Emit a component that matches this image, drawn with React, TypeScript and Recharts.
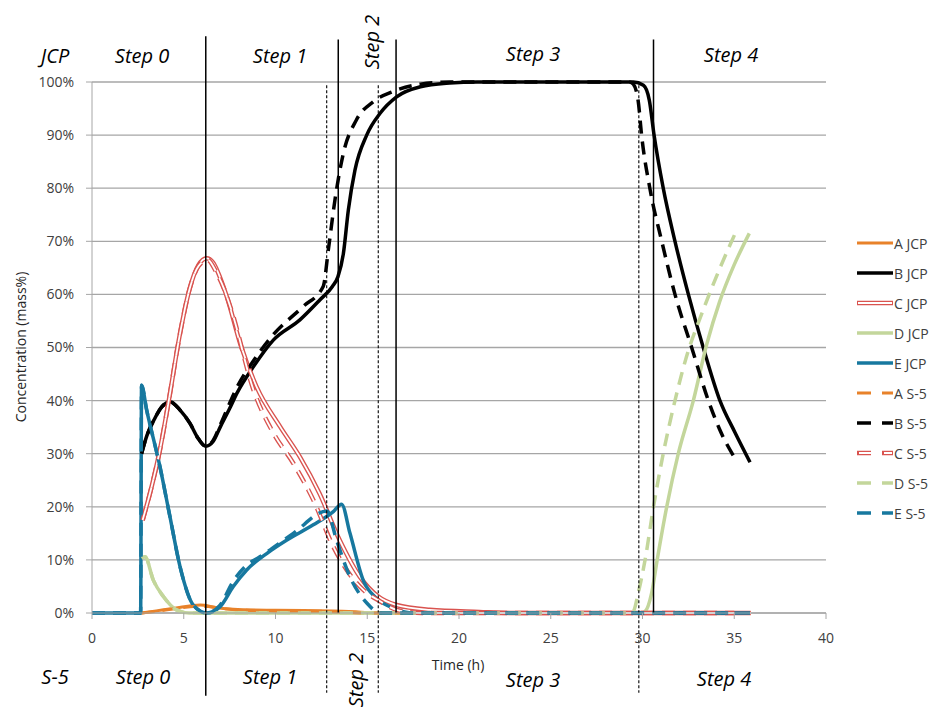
import { LineChart, Line, XAxis, YAxis, CartesianGrid, ReferenceLine } from "recharts";

const W = 933;
const H = 712;

const ORANGE = "#E8822A";
const BLACK = "#000000";
const RED = "#D9534F";
const GREEN = "#C3D69B";
const BLUE = "#17789F";

// [time (h), concentration (mass%)]
const aJcp = [[2.7, 0], [3.5, 0.4], [4.5, 0.9], [5.9, 1.5], [6.8, 1.0], [7.7, 0.7], [10, 0.5], [13.1, 0.4], [14.5, 0.2], [15.5, 0], [35.9, 0]];
const bJcp = [[2.7, 30], [3.0, 33.5], [3.4, 36.5], [3.8, 38.8], [4.25, 39.8], [4.8, 38.2], [5.34, 35.7], [5.8, 32.8], [6.2, 31.4], [6.6, 32.3], [7.0, 35.1], [7.5, 38.5], [7.9, 41.4], [8.8, 46.4], [9.88, 51.4], [11.33, 55.2], [12.4, 58.9], [13.1, 61.5], [13.4, 63.3], [13.7, 67.7], [13.97, 75.9], [14.33, 83.4], [14.97, 90], [15.7, 94.1], [16.6, 97.2], [17.9, 99.1], [19.5, 99.8], [21, 100], [29.5, 100], [30.05, 99.4], [30.37, 96.6], [30.63, 90], [31.13, 80], [31.77, 70], [32.5, 60], [33.31, 50], [34.22, 40], [35.04, 34], [35.86, 28.4]];
const cJcp = [[2.76, 17.5], [3.25, 23.8], [3.7, 30.7], [4.16, 39.5], [4.8, 52.7], [5.3, 60.8], [5.8, 65.5], [6.25, 66.8], [6.6, 66], [7.0, 63], [7.4, 59], [8.07, 50.8], [8.97, 42.6], [10.25, 35.1], [11.33, 29.4], [12.4, 22.5], [13.5, 13.7], [14.6, 6.8], [15.6, 3.1], [16.6, 1.5], [18.4, 0.6], [21.1, 0.2], [23, 0], [35.9, 0]];
const dJcp = [[2.7, 10.3], [2.89, 10.6], [3.34, 6.2], [3.89, 3.1], [4.6, 0.6], [5.3, 0], [29.9, 0], [30.14, 0.3], [30.5, 3.8], [30.8, 10], [31.32, 20], [31.95, 30], [32.77, 40], [33.5, 50.6], [34.2, 58.6], [35.0, 65.6], [35.82, 71.5]];
const eJcp = [[0, 0], [2.65, 0], [2.7, 42.9], [2.98, 38.2], [3.7, 27.6], [4.25, 18.1], [4.8, 8.7], [5.52, 1.5], [6.25, 0], [6.98, 1.2], [7.7, 5], [8.43, 8.1], [9.52, 11.2], [10.6, 13.7], [12.06, 16.6], [13.15, 19.1], [13.6, 20.5], [14.06, 15], [14.8, 6], [15.5, 2.8], [16.5, 0.8], [17.5, 0], [35.86, 0]];

const aS5 = [[2.7, 0], [3.5, 0.3], [4.5, 0.8], [6, 1.3], [7, 0.9], [8, 0.6], [10, 0.4], [12.7, 0.3], [14, 0.1], [15, 0], [35, 0]];
const bS5 = [[2.7, 30], [3.0, 33.5], [3.4, 36.5], [3.8, 38.8], [4.25, 39.8], [4.8, 38.2], [5.34, 35.7], [5.8, 32.8], [6.2, 31.4], [6.6, 32.5], [7.0, 35.5], [7.5, 39.5], [7.9, 42.5], [8.8, 47.5], [9.9, 52.5], [11.5, 57.7], [12.6, 61.5], [12.88, 68.4], [13.24, 77.8], [13.7, 86.6], [14.4, 92.8], [15.33, 96.3], [16.4, 98.2], [17.9, 99.6], [19.5, 100], [29.3, 100], [29.5, 99.6], [29.77, 96.3], [29.95, 90], [30.4, 80], [31.05, 70], [31.77, 60], [32.68, 50], [33.59, 40], [34.2, 34.6], [35.04, 29.1]];
const cS5 = [[2.76, 17.5], [3.25, 23.8], [3.7, 30.7], [4.16, 39.5], [4.8, 52.7], [5.3, 60.8], [5.8, 65.3], [6.3, 66.5], [6.8, 64], [7.2, 61], [7.6, 57], [8.8, 42], [9.9, 33.8], [10.97, 28.2], [12.06, 21.3], [13.15, 12.5], [13.9, 8], [14.8, 4.3], [15.7, 2.2], [16.6, 0.6], [18, 0], [35, 0]];
const dS5 = [[2.7, 10.3], [2.89, 10.6], [3.34, 6.2], [3.89, 3.1], [4.6, 0.6], [5.3, 0], [29.3, 0], [29.5, 0.3], [29.77, 3.8], [30.14, 10], [30.6, 20], [31.13, 30], [31.77, 40], [32.4, 48.3], [33.3, 57], [34.2, 64.8], [35.04, 71.4]];
const eS5 = [[0, 0], [2.65, 0], [2.7, 42.9], [2.98, 38.2], [3.7, 27.6], [4.25, 18.1], [4.8, 8.7], [5.52, 1.5], [6.25, 0], [6.98, 1.5], [7.7, 6], [8.43, 9], [9.15, 10.6], [10.97, 15], [12.8, 19.2], [13.33, 13.7], [14.06, 6.8], [15, 1.8], [15.7, 0], [35, 0]];

// step boundaries (h)
const sharedBound = 6.2;
const jcpBounds = [13.42, 16.57, 30.6];
const s5Bounds = [12.79, 15.6, 29.8];

const xTicks = [0, 5, 10, 15, 20, 25, 30, 35, 40];
const yTicks = [0, 10, 20, 30, 40, 50, 60, 70, 80, 90, 100];

const series = [
  { name: "A JCP", data: aJcp, color: ORANGE, dashed: false, double: false, width: 3 },
  { name: "B JCP", data: bJcp, color: BLACK, dashed: false, double: false, width: 3.5 },
  { name: "C JCP", data: cJcp, color: RED, dashed: false, double: true, width: 4.5 },
  { name: "D JCP", data: dJcp, color: GREEN, dashed: false, double: false, width: 3.5 },
  { name: "E JCP", data: eJcp, color: BLUE, dashed: false, double: false, width: 3.5 },
  { name: "A S-5", data: aS5, color: ORANGE, dashed: true, double: false, width: 3 },
  { name: "B S-5", data: bS5, color: BLACK, dashed: true, double: false, width: 3.5 },
  { name: "C S-5", data: cS5, color: RED, dashed: true, double: true, width: 4.5 },
  { name: "D S-5", data: dS5, color: GREEN, dashed: true, double: false, width: 3.5 },
  { name: "E S-5", data: eS5, color: BLUE, dashed: true, double: false, width: 3.5 },
];

const toPoints = (arr: number[][]) => arr.map(([t, v]) => ({ t, v }));

const topLabels = [
  { text: "JCP", x: 55, y: 56 },
  { text: "Step 0", x: 142, y: 56 },
  { text: "Step 1", x: 280, y: 56 },
  { text: "Step 2", x: 372, y: 42, rotate: true },
  { text: "Step 3", x: 533, y: 54 },
  { text: "Step 4", x: 731, y: 55 },
];
const bottomLabels = [
  { text: "S-5", x: 55, y: 677 },
  { text: "Step 0", x: 143, y: 677 },
  { text: "Step 1", x: 270, y: 677 },
  { text: "Step 2", x: 356, y: 680, rotate: true },
  { text: "Step 3", x: 533, y: 680 },
  { text: "Step 4", x: 724, y: 679 },
];

function StepLabel({ text, x, y, rotate }: { text: string; x: number; y: number; rotate?: boolean }) {
  return (
    <div
      style={{
        position: "absolute",
        left: x,
        top: y,
        transform: `translate(-50%, -50%)${rotate ? " rotate(-90deg)" : ""}`,
        fontSize: 20,
        fontStyle: "italic",
        color: "#000",
        whiteSpace: "nowrap",
        lineHeight: 1,
      }}
    >
      {text}
    </div>
  );
}

function LegendIcon({ s }: { s: (typeof series)[number] }) {
  const dash = s.dashed ? "14 11" : undefined;
  return (
    <svg width={36} height={10} style={{ display: "block" }}>
      <line x1={0} y1={5} x2={36} y2={5} stroke={s.color} strokeWidth={s.width} strokeDasharray={dash} />
      {s.double && (
        <line x1={1} y1={5} x2={35} y2={5} stroke="#fff" strokeWidth={2} strokeDasharray={s.dashed ? "12 13" : undefined} strokeDashoffset={-1} />
      )}
    </svg>
  );
}

export default function App() {
  return (
    <div
      style={{
        position: "absolute",
        left: 0,
        top: 0,
        width: W,
        height: H,
        background: "#fff",
        fontFamily: "'Open Sans', sans-serif",
        overflow: "hidden",
      }}
    >
      <LineChart width={W} height={H} margin={{ top: 82, right: 107, bottom: 69, left: 30 }}>
        <CartesianGrid vertical={false} stroke="#A6A6A6" strokeWidth={1.3} />
        <XAxis
          type="number"
          dataKey="t"
          domain={[0, 40]}
          ticks={xTicks}
          height={30}
          stroke="#A6A6A6"
          tickSize={6}
          tickMargin={14}
          tick={{ fill: "#404040", fontSize: 14 }}
        />
        <YAxis
          type="number"
          dataKey="v"
          domain={[0, 100]}
          ticks={yTicks}
          width={62}
          stroke="#A6A6A6"
          tickSize={6}
          tickMargin={12}
          tickFormatter={(v: number) => `${v}%`}
          tick={{ fill: "#404040", fontSize: 14 }}
        />
        {series.flatMap((s) => {
          const dash = s.dashed ? "13 8" : undefined;
          const lines = [
            <Line
              key={s.name}
              data={toPoints(s.data)}
              dataKey="v"
              name={s.name}
              type="monotone"
              stroke={s.color}
              strokeWidth={s.width}
              strokeDasharray={dash}
              dot={false}
              activeDot={false}
              isAnimationActive={false}
            />,
          ];
          if (s.double) {
            lines.push(
              <Line
                key={s.name + "-core"}
                data={toPoints(s.data)}
                dataKey="v"
                name={s.name + " core"}
                type="monotone"
                stroke="#fff"
                strokeWidth={1.8}
                strokeDasharray={dash}
                dot={false}
                activeDot={false}
                legendType="none"
                isAnimationActive={false}
              />
            );
          }
          return lines;
        })}
        <ReferenceLine
          segment={[{ x: sharedBound, y: 108.6 }, { x: sharedBound, y: -15.6 }]}
          stroke="#000"
          strokeWidth={1.5}
          ifOverflow="visible"
        />
        {jcpBounds.map((b) => (
          <ReferenceLine
            key={"j" + b}
            segment={[{ x: b, y: 108 }, { x: b, y: 0 }]}
            stroke="#000"
            strokeWidth={1.5}
            ifOverflow="visible"
          />
        ))}
        {s5Bounds.map((b) => (
          <ReferenceLine
            key={"s" + b}
            segment={[{ x: b, y: 99.4 }, { x: b, y: -15 }]}
            stroke="#000"
            strokeWidth={1.1}
            strokeDasharray="3 2"
            ifOverflow="visible"
          />
        ))}
      </LineChart>

      {topLabels.map((l) => (
        <StepLabel key={"t" + l.text} {...l} />
      ))}
      {bottomLabels.map((l) => (
        <StepLabel key={"b" + l.text} {...l} />
      ))}

      <div
        style={{
          position: "absolute",
          left: 21,
          top: 347,
          transform: "translate(-50%, -50%) rotate(-90deg)",
          fontSize: 14,
          color: "#262626",
          whiteSpace: "nowrap",
          lineHeight: 1,
        }}
      >
        Concentration (mass%)
      </div>
      <div
        style={{
          position: "absolute",
          left: 458,
          top: 665,
          transform: "translate(-50%, -50%)",
          fontSize: 14,
          color: "#262626",
          whiteSpace: "nowrap",
          lineHeight: 1,
        }}
      >
        Time (h)
      </div>

      <div style={{ position: "absolute", left: 857, top: 228 }}>
        {series.map((s) => (
          <div key={s.name} style={{ display: "flex", alignItems: "center", height: 30 }}>
            <LegendIcon s={s} />
            <span style={{ marginLeft: 1, fontSize: 14, color: "#404040", whiteSpace: "nowrap" }}>{s.name}</span>
          </div>
        ))}
      </div>
    </div>
  );
}
